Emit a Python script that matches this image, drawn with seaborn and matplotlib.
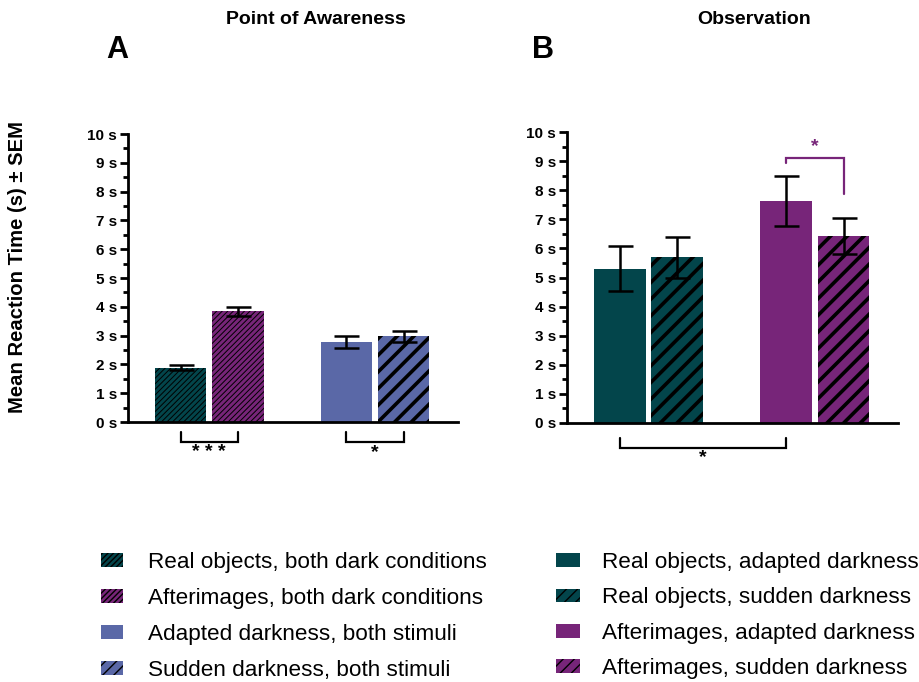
import matplotlib
matplotlib.use("Agg")
import matplotlib.pyplot as plt
import numpy as np
import pandas as pd
import seaborn as sns
from matplotlib.patches import Patch

# ---------------- data ----------------
a_groups = ["Stimulus", "Darkness"]
a_labels = ["Real objects, both dark conditions", "Afterimages, both dark conditions",
            "Adapted darkness, both stimuli", "Sudden darkness, both stimuli"]
a_means = [1.89, 3.84, 2.77, 2.97]
a_sem = [0.09, 0.16, 0.20, 0.19]

b_groups = ["Real objects", "Afterimages"]
b_labels = ["Real objects, adapted darkness", "Real objects, sudden darkness",
            "Afterimages, adapted darkness", "Afterimages, sudden darkness"]
b_means = [5.30, 5.69, 7.64, 6.44]
b_sem = [0.77, 0.70, 0.86, 0.62]

sub_levels = ["first", "second"]
yticks = list(range(0, 11))

# ---------------- style ----------------
sns.set_theme(style="ticks")
plt.rcParams["font.family"] = ["Liberation Sans", "DejaVu Sans"]
plt.rcParams["text.color"] = "black"
plt.rcParams["axes.labelcolor"] = "black"
plt.rcParams["xtick.color"] = "black"
plt.rcParams["ytick.color"] = "black"
plt.rcParams["legend.labelcolor"] = "black"

TEAL = "#03454b"
PURPLE = "#772579"
BLUE = "#5a68a7"

a_colors = [TEAL, PURPLE, BLUE, BLUE]
a_hatch = ["//////", "//////", "", "//"]
a_hlw = [0.7, 0.7, 0, 2.6]
b_colors = [TEAL, TEAL, PURPLE, PURPLE]
b_hatch = ["", "//", "", "//"]
b_hlw = [0, 2.6, 0, 2.6]

fig = plt.figure(figsize=(9.2, 6.82), dpi=100)
axA = fig.add_axes([128 / 920, 1 - 422 / 682, 330 / 920, 288 / 682])
axB = fig.add_axes([567 / 920, 1 - 423 / 682, 331 / 920, 291 / 682])


def draw_panel(ax, groups, means, sems, colors, hatches, hlws):
    df = pd.DataFrame({
        "group": [groups[0], groups[0], groups[1], groups[1]],
        "sub": [sub_levels[0], sub_levels[1], sub_levels[0], sub_levels[1]],
        "value": means,
    })
    sns.barplot(data=df, x="group", y="value", hue="sub", order=groups,
                hue_order=sub_levels, palette=["#888888", "#888888"],
                width=0.69, gap=0.1, errorbar=None, legend=False, ax=ax)
    bars = sorted(ax.patches, key=lambda p: p.get_x())
    centers = []
    for p, c, h, lw in zip(bars, colors, hatches, hlws):
        p.set_facecolor(c)
        if h:
            p.set_edgecolor("black")
            p.set_linewidth(0)
            p.set_hatch(h)
            if hasattr(p, "set_hatch_linewidth"):
                p.set_hatch_linewidth(lw)
        else:
            p.set_edgecolor("none")
            p.set_linewidth(0)
        centers.append(p.get_x() + p.get_width() / 2)
    ax.errorbar(centers, [p.get_height() for p in bars], yerr=sems, fmt="none",
                ecolor="black", elinewidth=1.8, capsize=9, capthick=1.8, zorder=5)
    ax.set_ylim(0, 10)
    ax.set_xlim(-0.49, 1.5)
    ax.set_yticks(yticks)
    ax.set_yticklabels([f"{v} s" for v in yticks], fontsize=11, fontweight="bold")
    ax.set_yticks(np.arange(0.5, 10, 1), minor=True)
    ax.tick_params(axis="y", which="major", length=6, width=2, pad=2, colors="black")
    ax.tick_params(axis="y", which="minor", length=3.5, width=2, colors="black")
    ax.set_xticks([])
    ax.set_xlabel("")
    ax.set_ylabel("")
    for s in ["top", "right"]:
        ax.spines[s].set_visible(False)
    for s in ["left", "bottom"]:
        ax.spines[s].set_linewidth(2)
        ax.spines[s].set_color("black")
    return centers


cA = draw_panel(axA, a_groups, a_means, a_sem, a_colors, a_hatch, a_hlw)
cB = draw_panel(axB, b_groups, b_means, b_sem, b_colors, b_hatch, b_hlw)


def bracket_below(ax, x0, x1, ytop, ybot, text, ytext, color="black"):
    ax.plot([x0, x0, x1, x1], [ytop, ybot, ybot, ytop], color=color, lw=1.6,
            clip_on=False, solid_joinstyle="miter")
    ax.text((x0 + x1) / 2, ytext, text, ha="center", va="center", fontsize=14,
            fontweight="bold", color=color, clip_on=False)


bracket_below(axA, cA[0], cA[1], -0.35, -0.69, "* * *", -1.07)
bracket_below(axA, cA[2], cA[3], -0.35, -0.69, "*", -1.07)
bracket_below(axB, cB[0], cB[2], -0.52, -0.86, "*", -1.2)

# purple bracket above panel B
axB.plot([cB[2], cB[2], cB[3], cB[3]], [8.93, 9.1, 9.1, 7.87], color=PURPLE, lw=1.6,
         clip_on=False, solid_joinstyle="miter")
axB.text((cB[2] + cB[3]) / 2, 9.5, "*", ha="center", va="center", fontsize=14,
         fontweight="bold", color=PURPLE)

# titles and panel letters
fig.text(316 / 920, 1 - 20 / 682, "Point of Awareness", ha="center", va="center",
         fontsize=14, fontweight="bold")
fig.text(754 / 920, 1 - 20 / 682, "Observation", ha="center", va="center",
         fontsize=14, fontweight="bold")
fig.text(117 / 920, 1 - 50 / 682, "A", ha="center", va="center", fontsize=22,
         fontweight="bold")
fig.text(543 / 920, 1 - 50 / 682, "B", ha="center", va="center", fontsize=22,
         fontweight="bold")
fig.text(18 / 920, 1 - 267 / 682, "Mean Reaction Time (s) ± SEM", rotation=90,
         ha="center", va="center", fontsize=14.6, fontweight="bold")

# legends
def make_handles(colors, hatches, hlws):
    hs = []
    for c, h, lw in zip(colors, hatches, hlws):
        p = Patch(facecolor=c, edgecolor="black" if h else "none", linewidth=0,
                  hatch=h if h else None)
        if h and hasattr(p, "set_hatch_linewidth"):
            p.set_hatch_linewidth(lw)
        hs.append(p)
    return hs


legA = fig.legend(make_handles(a_colors, ["//////", "//////", "", "///"], [0.8, 0.8, 0, 2.4]),
                  a_labels, loc="center left", bbox_to_anchor=(101 / 920, 1 - 616.5 / 682),
                  frameon=False, fontsize=16.2, handlelength=1.0, handleheight=0.55,
                  handletextpad=1.1, labelspacing=0.66, borderpad=0, borderaxespad=0)
legB = fig.legend(make_handles(b_colors, ["", "///", "", "///"], [0, 2.4, 0, 2.4]),
                  b_labels, loc="center left",
                  bbox_to_anchor=(556 / 920, 1 - 615.5 / 682), frameon=False, fontsize=16.2,
                  handlelength=1.05, handleheight=0.55, handletextpad=1.0,
                  labelspacing=0.64, borderpad=0, borderaxespad=0)

fig.savefig("out.png", dpi=100)
